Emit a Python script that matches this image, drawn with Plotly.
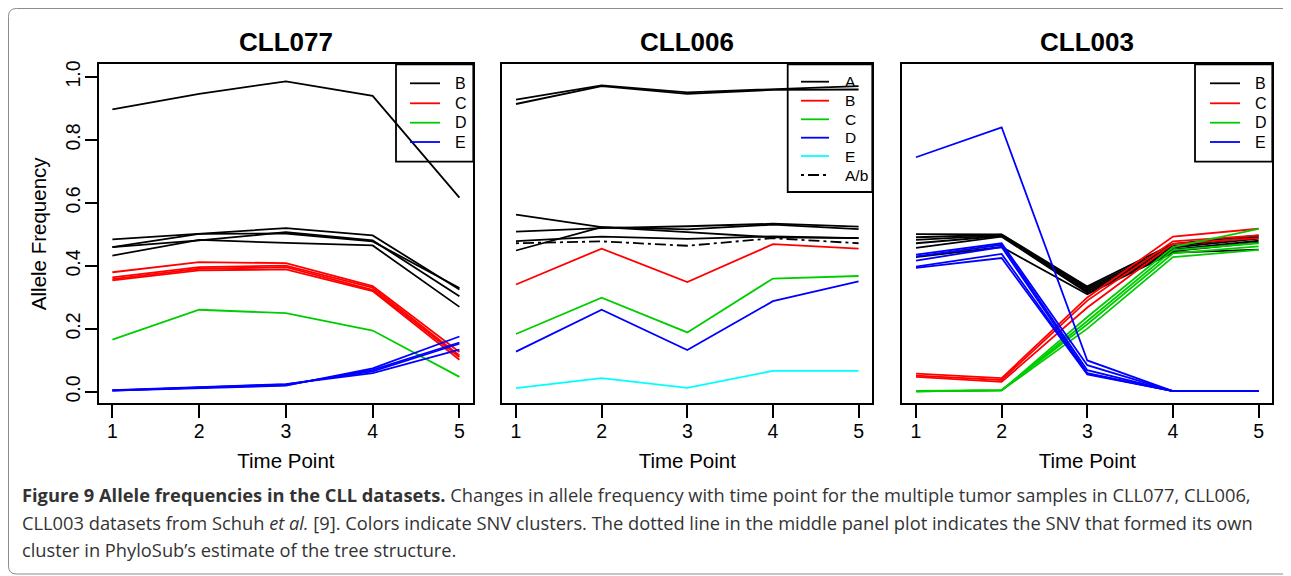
import plotly.graph_objects as go

# page is offset by the default 8px body margin
OFF = 8
W, H = 1291 - OFF, 576 - OFF
time_points = [1, 2, 3, 4, 5]

# ---------------- CLL077 ----------------
cll077_B = [
    [0.897, 0.946, 0.986, 0.940, 0.617],
    [0.484, 0.502, 0.520, 0.497, 0.325],
    [0.460, 0.481, 0.507, 0.481, 0.304],
    [0.460, 0.502, 0.503, 0.478, 0.330],
    [0.433, 0.483, 0.473, 0.465, 0.270],
]
cll077_C = [
    [0.380, 0.412, 0.409, 0.336, 0.127],
    [0.364, 0.396, 0.401, 0.331, 0.116],
    [0.358, 0.391, 0.396, 0.324, 0.111],
    [0.354, 0.386, 0.389, 0.320, 0.102],
]
cll077_D = [
    [0.166, 0.261, 0.250, 0.195, 0.048],
]
cll077_E = [
    [0.004, 0.013, 0.020, 0.075, 0.176],
    [0.005, 0.014, 0.022, 0.070, 0.157],
    [0.004, 0.015, 0.024, 0.065, 0.153],
    [0.006, 0.016, 0.025, 0.060, 0.134],
]

# ---------------- CLL006 ----------------
cll006_A = [
    [0.928, 0.973, 0.951, 0.961, 0.971],
    [0.914, 0.971, 0.946, 0.959, 0.960],
    [0.563, 0.523, 0.507, 0.491, 0.488],
    [0.509, 0.520, 0.526, 0.534, 0.525],
    [0.479, 0.493, 0.486, 0.494, 0.488],
    [0.449, 0.523, 0.516, 0.531, 0.517],
]
cll006_B = [[0.341, 0.455, 0.349, 0.469, 0.455]]
cll006_C = [[0.184, 0.299, 0.189, 0.360, 0.368]]
cll006_D = [[0.128, 0.261, 0.133, 0.288, 0.351]]
cll006_E = [[0.012, 0.044, 0.013, 0.067, 0.067]]
cll006_Ab = [[0.472, 0.478, 0.464, 0.488, 0.472]]

# ---------------- CLL003 ----------------
cll003_B = [
    [0.501, 0.500, 0.335, 0.470, 0.497],
    [0.491, 0.499, 0.330, 0.463, 0.492],
    [0.483, 0.497, 0.325, 0.458, 0.487],
    [0.472, 0.495, 0.320, 0.452, 0.480],
    [0.457, 0.493, 0.315, 0.447, 0.474],
    [0.428, 0.460, 0.310, 0.442, 0.452],
]
cll003_C = [
    [0.058, 0.044, 0.300, 0.493, 0.518],
    [0.052, 0.038, 0.290, 0.478, 0.497],
    [0.048, 0.032, 0.268, 0.470, 0.488],
]
cll003_D = [
    [0.002, 0.005, 0.238, 0.460, 0.518],
    [0.002, 0.005, 0.225, 0.450, 0.472],
    [0.003, 0.006, 0.215, 0.440, 0.462],
    [0.002, 0.005, 0.201, 0.428, 0.451],
]
cll003_E = [
    [0.745, 0.840, 0.100, 0.003, 0.003],
    [0.436, 0.472, 0.085, 0.003, 0.003],
    [0.430, 0.467, 0.069, 0.003, 0.003],
    [0.417, 0.460, 0.060, 0.003, 0.003],
    [0.398, 0.438, 0.058, 0.003, 0.003],
    [0.394, 0.425, 0.056, 0.003, 0.003],
]

panel_titles = ["CLL077", "CLL006", "CLL003"]
y_ticks = [0.0, 0.2, 0.4, 0.6, 0.8, 1.0]
y_tick_text = ["0.0", "0.2", "0.4", "0.6", "0.8", "1.0"]

BLACK, RED, GREEN, BLUE, CYAN = "#000000", "#FF0000", "#00CD00", "#0000FF", "#00FFFF"
DASHDOT = "3px,4px,11px,4px"

panels = [
    [("B", cll077_B, BLACK, "solid"), ("C", cll077_C, RED, "solid"),
     ("D", cll077_D, GREEN, "solid"), ("E", cll077_E, BLUE, "solid")],
    [("A", cll006_A, BLACK, "solid"), ("B", cll006_B, RED, "solid"),
     ("C", cll006_C, GREEN, "solid"), ("D", cll006_D, BLUE, "solid"),
     ("E", cll006_E, CYAN, "solid"), ("A/b", cll006_Ab, BLACK, DASHDOT)],
    [("B", cll003_B, BLACK, "solid"), ("C", cll003_C, RED, "solid"),
     ("D", cll003_D, GREEN, "solid"), ("E", cll003_E, BLUE, "solid")],
]


def xp(px):
    return (px - OFF) / W


def yp(py):
    return 1 - (py - OFF) / H


# page-pixel layout
x_doms_px = [(98.5, 473.3), (502.3, 872.3), (902.3, 1272.3)]
y_top_px, y_bot_px = 64.3, 403.3
ydom = [yp(y_bot_px), yp(y_top_px)]

fig = go.Figure()
for pi, groups in enumerate(panels):
    ax = "" if pi == 0 else str(pi + 1)
    for label, lines, color, dash in groups:
        for vals in lines:
            fig.add_trace(go.Scatter(
                x=time_points, y=vals, mode="lines",
                line=dict(color=color, width=1.8, dash=dash),
                name=label, showlegend=False,
                xaxis="x" + ax, yaxis="y" + ax, hoverinfo="skip",
            ))

FONT = "Liberation Sans, Arial, sans-serif"
layout = dict(
    width=W, height=H, margin=dict(l=0, r=0, t=0, b=0),
    paper_bgcolor="white", plot_bgcolor="rgba(0,0,0,0)",
    font=dict(family=FONT, color="black", size=19),
    showlegend=False,
)
annotations = []
shapes = []

# legend geometry (page px): box, rows, line x-range, text x
legend_geo = [
    dict(box=(396, 64.3, 473.3, 161.7), rows=[83.3, 103.3, 122.7, 142.0], lx=(410, 440), tx=453, fs=16),
    dict(box=(787.7, 64.3, 872.3, 192.0), rows=[81.7, 100.7, 119.3, 137.7, 156.0, 175.0], lx=(801, 829), tx=843, fs=15.5),
    dict(box=(1195, 64.3, 1272.3, 161.7), rows=[83.3, 103.3, 122.7, 142.0], lx=(1210, 1240), tx=1253, fs=16),
]

for pi in range(3):
    ax = "" if pi == 0 else str(pi + 1)
    x0, x1 = x_doms_px[pi]
    layout["xaxis" + ax] = dict(
        domain=[xp(x0), xp(x1)], range=[0.84, 5.16],
        tickvals=time_points, ticks="outside", ticklen=13, tickwidth=1.5, tickcolor="black",
        showline=True, linecolor="black", linewidth=1.8, mirror=True,
        showgrid=False, zeroline=False, automargin=False, ticklabelstandoff=-4,
        tickfont=dict(size=19.5, family=FONT),
        title=dict(text="Time Point", font=dict(size=20.5, family=FONT), standoff=13),
        anchor="y" + ax,
    )
    yax = dict(
        domain=ydom, range=[-0.036, 1.040],
        showline=True, linecolor="black", linewidth=1.8, mirror=True,
        showgrid=False, zeroline=False, automargin=False,
        anchor="x" + ax,
    )
    if pi == 0:
        yax.update(tickvals=y_ticks, ticktext=y_tick_text, ticks="outside", ticklen=12,
                   tickwidth=1.5, tickcolor="black", tickangle=-90, ticklabelstandoff=-3,
                   tickfont=dict(size=19.5, family=FONT),
                   title=dict(text="Allele Frequency", font=dict(size=20.5, family=FONT), standoff=10))
    else:
        yax.update(showticklabels=False, ticks="")
    layout["yaxis" + ax] = yax

    annotations.append(dict(
        text="<b>" + panel_titles[pi] + "</b>", x=xp((x0 + x1) / 2), y=yp(42),
        xref="paper", yref="paper", showarrow=False, xanchor="center", yanchor="middle",
        font=dict(size=26, family=FONT, color="black"),
    ))

    # legend drawn as box + samples + labels
    g = legend_geo[pi]
    bx0, by0, bx1, by1 = g["box"]
    shapes.append(dict(type="rect", xref="paper", yref="paper",
                       x0=xp(bx0), x1=xp(bx1), y0=yp(by1), y1=yp(by0),
                       line=dict(color="black", width=1.8), fillcolor="rgba(0,0,0,0)"))
    for (label, _lines, color, dash), ry in zip(panels[pi], g["rows"]):
        shapes.append(dict(type="line", xref="paper", yref="paper",
                           x0=xp(g["lx"][0]), x1=xp(g["lx"][1]), y0=yp(ry), y1=yp(ry),
                           line=dict(color=color, width=1.8, dash=dash)))
        annotations.append(dict(
            text=label, x=xp(g["tx"]), y=yp(ry), xref="paper", yref="paper",
            showarrow=False, xanchor="left", yanchor="middle",
            font=dict(size=g["fs"], family=FONT, color="black"),
        ))

caption_lines = [
    "<b>Figure 9 Allele frequencies in the CLL datasets.</b> Changes in allele frequency with time point for the multiple tumor samples in CLL077, CLL006,",
    "CLL003 datasets from Schuh <i>et al.</i> [9]. Colors indicate SNV clusters. The dotted line in the middle panel plot indicates the SNV that formed its own",
    "cluster in PhyloSub\u2019s estimate of the tree structure.",
]
cap_y = [494.5, 522, 549.5]
for txt, yy in zip(caption_lines, cap_y):
    annotations.append(dict(
        text=txt, x=xp(20), y=yp(yy), xref="paper", yref="paper", showarrow=False,
        xanchor="left", yanchor="middle", align="left",
        font=dict(size=18.3, family="Open Sans, sans-serif", color="#333333"),
    ))
layout["annotations"] = annotations

# rounded outer frame
fx0, fy0, fx1, fy1, r = 8.5, 8.5, 1290, 574, 8


def pt(x, y):
    return f"{xp(x):.5f},{yp(y):.5f}"


path = (f"M {pt(fx0 + r, fy0)} L {pt(fx1 - r, fy0)} Q {pt(fx1, fy0)} {pt(fx1, fy0 + r)} "
        f"L {pt(fx1, fy1 - r)} Q {pt(fx1, fy1)} {pt(fx1 - r, fy1)} "
        f"L {pt(fx0 + r, fy1)} Q {pt(fx0, fy1)} {pt(fx0, fy1 - r)} "
        f"L {pt(fx0, fy0 + r)} Q {pt(fx0, fy0)} {pt(fx0 + r, fy0)} Z")
shapes.append(dict(type="path", path=path, xref="paper", yref="paper",
                   line=dict(color="#8c8c8c", width=1), layer="below"))
layout["shapes"] = shapes

fig.update_layout(**layout)
fig.write_html("out.html")
